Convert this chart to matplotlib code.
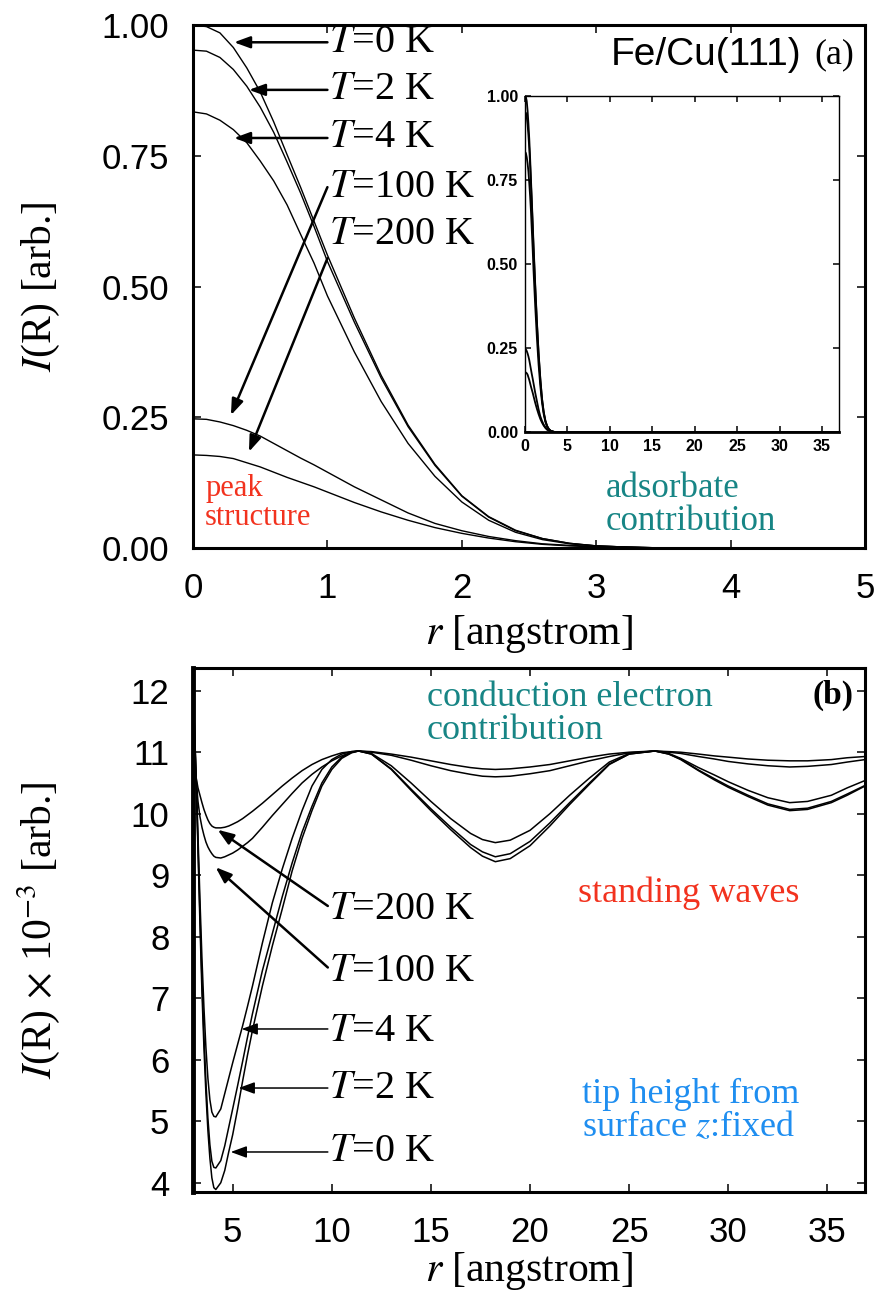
import matplotlib.pyplot as plt

plt.rcParams['font.family'] = ['Liberation Serif', 'DejaVu Serif']
plt.rcParams['mathtext.fontset'] = 'stix'

# (a) adsorbate contribution, r in angstrom
r_a = [0.0, 0.1, 0.2, 0.3, 0.4, 0.5, 0.6, 0.7, 0.8, 0.9, 1.0, 1.2, 1.4,
       1.6, 1.8, 2.0, 2.2, 2.4, 2.6, 2.8, 3.0, 3.2, 3.5, 5.0, 37.0]
ia_0K = [1.000, 0.997, 0.985, 0.957, 0.918, 0.872, 0.815, 0.752, 0.690, 0.625,
         0.560, 0.440, 0.330, 0.235, 0.160, 0.100, 0.060, 0.034, 0.018, 0.009,
         0.004, 0.002, 0.0, 0.0, 0.0]
ia_2K = [0.952, 0.950, 0.938, 0.915, 0.883, 0.843, 0.795, 0.738, 0.679, 0.615,
         0.548, 0.432, 0.325, 0.232, 0.158, 0.099, 0.059, 0.033, 0.018, 0.009,
         0.004, 0.002, 0.0, 0.0, 0.0]
ia_4K = [0.834, 0.830, 0.818, 0.800, 0.775, 0.740, 0.702, 0.656, 0.600, 0.545,
         0.482, 0.375, 0.280, 0.200, 0.137, 0.088, 0.053, 0.030, 0.016, 0.008,
         0.004, 0.002, 0.0, 0.0, 0.0]
ia_100K = [0.247, 0.246, 0.241, 0.234, 0.225, 0.214, 0.200, 0.186, 0.172, 0.159,
           0.145, 0.117, 0.092, 0.067, 0.047, 0.033, 0.022, 0.014, 0.008, 0.005,
           0.003, 0.001, 0.0, 0.0, 0.0]
ia_200K = [0.178, 0.177, 0.175, 0.171, 0.163, 0.155, 0.145, 0.135, 0.126, 0.117,
           0.107, 0.087, 0.069, 0.053, 0.039, 0.028, 0.019, 0.012, 0.007, 0.004,
           0.002, 0.001, 0.0, 0.0, 0.0]

# (b) conduction electron contribution, I(R) x 1e-3
r_b = [3.05, 3.15, 3.25, 3.35, 3.45, 3.55, 3.65, 3.75, 3.85, 3.95,
       4.05, 4.15, 4.4, 4.6, 4.8, 5.0, 5.25, 5.5, 5.75, 6.0,
       6.5, 7.0, 7.5, 8.0, 8.5, 9.0, 9.5, 10.0, 10.5, 11.0,
       11.35, 12, 13, 14, 15, 16, 17, 17.6, 18.25, 19,
       20, 21, 22, 23, 24, 25, 26.3, 27, 27.6, 28.5,
       29.3, 30, 31, 32, 33.1, 34, 35.2, 36, 36.9]
ib_0K = [11.6, 10.6, 9.4, 8.2, 7.1, 6.2, 5.45, 4.85, 4.4, 4.08,
         3.92, 3.89, 4.0, 4.2, 4.5, 4.78, 5.2, 5.65, 6.08, 6.48,
         7.2, 7.85, 8.45, 9.07, 9.6, 10.05, 10.45, 10.72, 10.9, 10.99,
         11.02, 10.97, 10.72, 10.38, 10.05, 9.74, 9.45, 9.31, 9.22, 9.27,
         9.48, 9.8, 10.15, 10.48, 10.8, 10.97, 11.02, 10.97, 10.88, 10.7,
         10.55, 10.43, 10.28, 10.14, 10.05, 10.07, 10.18, 10.3, 10.45]
ib_2K = [11.6, 10.65, 9.5, 8.35, 7.3, 6.4, 5.65, 5.05, 4.62, 4.35,
         4.25, 4.24, 4.36, 4.6, 4.9, 5.2, 5.58, 5.97, 6.37, 6.75,
         7.45, 8.05, 8.65, 9.2, 9.7, 10.12, 10.5, 10.76, 10.92, 11.0,
         11.02, 10.97, 10.73, 10.4, 10.08, 9.78, 9.5, 9.38, 9.3, 9.35,
         9.55, 9.85, 10.18, 10.5, 10.81, 10.97, 11.02, 10.97, 10.89, 10.71,
         10.57, 10.45, 10.3, 10.16, 10.07, 10.09, 10.2, 10.32, 10.46]
ib_4K = [11.6, 10.7, 9.65, 8.6, 7.65, 6.85, 6.2, 5.7, 5.35, 5.15,
         5.08, 5.07, 5.2, 5.45, 5.7, 5.95, 6.25, 6.55, 6.87, 7.2,
         7.9, 8.55, 9.1, 9.6, 10.05, 10.45, 10.72, 10.88, 10.97, 11.01,
         11.02, 10.98, 10.78, 10.5, 10.2, 9.92, 9.68, 9.58, 9.53, 9.57,
         9.73, 10.0, 10.3, 10.58, 10.84, 10.98, 11.02, 10.98, 10.9, 10.75,
         10.63, 10.52, 10.38, 10.26, 10.18, 10.2, 10.3, 10.42, 10.54]
ib_100K = [11.1, 10.6, 10.2, 9.95, 9.78, 9.65, 9.54, 9.46, 9.4, 9.35,
           9.31, 9.29, 9.28, 9.3, 9.33, 9.36, 9.41, 9.47, 9.53, 9.6,
           9.78, 9.97, 10.15, 10.33, 10.5, 10.64, 10.76, 10.86, 10.94, 11.0,
           11.02, 11.0, 10.95, 10.87, 10.78, 10.7, 10.64, 10.61, 10.6, 10.61,
           10.65, 10.7, 10.78, 10.86, 10.93, 10.99, 11.02, 11.0, 10.98, 10.93,
           10.89, 10.85, 10.81, 10.78, 10.76, 10.77, 10.8, 10.84, 10.88]
ib_200K = [10.9, 10.6, 10.42, 10.3, 10.18, 10.07, 9.98, 9.9, 9.84, 9.8,
           9.78, 9.77, 9.77, 9.78, 9.8, 9.83, 9.87, 9.92, 9.98, 10.04,
           10.17, 10.31, 10.45, 10.58, 10.7, 10.8, 10.88, 10.94, 10.99, 11.01,
           11.02, 11.01, 10.97, 10.92, 10.86, 10.8, 10.75, 10.73, 10.72, 10.73,
           10.76, 10.8, 10.86, 10.92, 10.97, 11.0, 11.02, 11.01, 11.0, 10.97,
           10.94, 10.92, 10.89, 10.87, 10.86, 10.86, 10.88, 10.91, 10.93]

temp_labels = [r'$T$=0 K', r'$T$=2 K', r'$T$=4 K', r'$T$=100 K', r'$T$=200 K']

red = '#f2321e'
teal = '#178585'
blue = '#1f8ef0'

fig = plt.figure(figsize=(8.79, 12.9), dpi=100)
ax_a = fig.add_axes([0.2196, 0.5752, 0.7645, 0.4054])
ax_b = fig.add_axes([0.2196, 0.0760, 0.7645, 0.4062])
ax_in = fig.add_axes([0.5973, 0.6651, 0.3572, 0.2605])


def frame(ax, lw, length, size, pad, family='Liberation Sans', weight='normal'):
    for s in ax.spines.values():
        s.set_linewidth(lw)
    ax.tick_params(direction='in', top=True, right=True, length=length,
                   width=1.1, labelsize=size, pad=pad,
                   labelfontfamily=family)
    for lab in ax.get_xticklabels() + ax.get_yticklabels():
        lab.set_fontweight(weight)


arrow = dict(arrowstyle='-|>,head_length=0.6,head_width=0.22', color='k',
             lw=1.8, shrinkA=0, shrinkB=0, mutation_scale=16)
thin_arrow = dict(arrow, lw=1.1)

# ---- panel (a)
for y in [ia_0K, ia_2K, ia_4K, ia_100K, ia_200K]:
    ax_a.plot(r_a, y, color='k', lw=1.0)
ax_a.set_xlim(0, 5)
ax_a.set_ylim(0, 1.0)
ax_a.set_xticks([0, 1, 2, 3, 4, 5])
ax_a.set_yticks([0, 0.25, 0.5, 0.75, 1.0])
ax_a.set_yticklabels(['0.00', '0.25', '0.50', '0.75', '1.00'])
frame(ax_a, 2.2, 6, 25, 17)
ax_a.set_xlabel(r'$r$ [angstrom]', fontsize=30)
ax_a.set_ylabel(r'$I$(R) [arb.]', fontsize=30)
ax_a.xaxis.set_label_coords(0.5, -0.125)
ax_a.yaxis.set_label_coords(-0.195, 0.5)

text_y_a = [0.967, 0.876, 0.784, 0.690, 0.600]
heads_a = [(0.305, 0.967), (0.416, 0.876), (0.305, 0.784),
           (0.282, 0.254), (0.416, 0.184)]
tails_a = [(1.0, 0.967), (1.0, 0.876), (1.0, 0.784),
           (1.0, 0.690), (1.0, 0.554)]
for lab, ty, hd, tl in zip(temp_labels, text_y_a, heads_a, tails_a):
    ax_a.text(1.01, ty, lab, fontsize=29, va='center', ha='left')
    ax_a.annotate('', xy=hd, xytext=tl, arrowprops=arrow)

ax_a.text(4.53, 0.943, 'Fe/Cu(111)', family='Liberation Sans', fontsize=28,
          ha='right', va='center')
ax_a.text(4.92, 0.943, '(a)', fontsize=26, ha='right', va='center')
ax_a.text(0.09, 0.086, 'peak\nstructure', color=red, fontsize=22,
          ha='left', va='center', linespacing=1.0)
ax_a.text(3.07, 0.083, 'adsorbate\ncontribution', color=teal, fontsize=25,
          ha='left', va='center', linespacing=1.0)

# inset: the same curves on the full r range
for y in [ia_0K, ia_2K, ia_4K, ia_100K, ia_200K]:
    ax_in.plot(r_a, y, color='k', lw=1.3)
ax_in.set_xlim(0, 37)
ax_in.set_ylim(0, 1.0)
ax_in.set_xticks(range(0, 36, 5))
ax_in.set_yticks([0, 0.25, 0.5, 0.75, 1.0])
ax_in.set_yticklabels(['0.00', '0.25', '0.50', '0.75', '1.00'])
frame(ax_in, 1.0, 4, 11.5, 5, weight='bold')
ax_in.spines['bottom'].set_linewidth(2.0)

# ---- panel (b)
for y in [ib_0K, ib_2K, ib_4K, ib_100K, ib_200K]:
    ax_b.plot(r_b, y, color='k', lw=1.1)
ax_b.set_xlim(3.0, 36.9)
ax_b.set_ylim(3.85, 12.37)
ax_b.set_xticks([5, 10, 15, 20, 25, 30, 35])
ax_b.set_yticks(range(4, 13))
frame(ax_b, 2.2, 6, 25, 17)
ax_b.spines['left'].set_linewidth(3.5)
ax_b.set_xlabel(r'$r$ [angstrom]', fontsize=30)
ax_b.set_ylabel(r'$I$(R)$\,\times\,$10$^{-3}$ [arb.]', fontsize=30)
ax_b.xaxis.set_label_coords(0.5, -0.11)
ax_b.yaxis.set_label_coords(-0.195, 0.5)

text_y_b = [4.5, 5.54, 6.46, 7.44, 8.44]
heads_b = [(4.9, 4.5), (5.3, 5.54), (5.45, 6.5), (4.14, 9.13), (4.24, 9.74)]
tails_b = [(9.8, 4.5), (9.8, 5.54), (9.8, 6.5), (9.8, 7.5), (9.8, 8.5)]
for k, (lab, ty, hd, tl) in enumerate(zip(temp_labels, text_y_b, heads_b, tails_b)):
    ax_b.text(9.84, ty, lab, fontsize=29, va='center', ha='left')
    ax_b.annotate('', xy=hd, xytext=tl,
                  arrowprops=thin_arrow if k < 3 else arrow)

ax_b.text(36.3, 11.93, '(b)', fontsize=24, fontweight='bold',
          ha='right', va='center')
ax_b.text(14.8, 11.62, 'conduction electron\ncontribution', color=teal,
          fontsize=26, ha='left', va='center', linespacing=1.0)
ax_b.text(22.4, 8.7, 'standing waves', color=red, fontsize=26,
          ha='left', va='center')
ax_b.text(22.6, 5.17, 'tip height from\nsurface $z$:fixed', color=blue,
          fontsize=26, ha='left', va='center', linespacing=1.0)

fig.savefig('out.png', dpi=100)
